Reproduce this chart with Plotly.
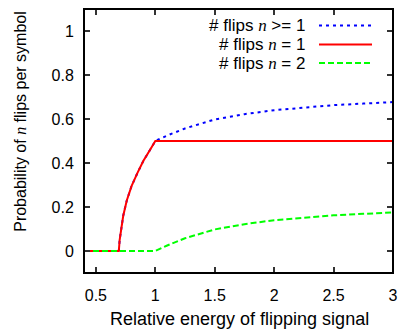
import plotly.graph_objects as go

# Data
energy = [0.4, 0.693, 0.70, 0.71, 0.73, 0.76, 0.80, 0.85, 0.90, 0.95, 1.0,
          1.1, 1.25, 1.5, 1.75, 2.0, 2.25, 2.5, 2.75, 3.0]
p_ge1 = [0, 0, 0.05, 0.09, 0.16, 0.23, 0.295, 0.355, 0.41, 0.455, 0.5,
         0.525, 0.557, 0.598, 0.622, 0.64, 0.653, 0.663, 0.670, 0.677]
p_eq1 = [0, 0, 0.05, 0.09, 0.16, 0.23, 0.295, 0.355, 0.41, 0.455, 0.5,
         0.5, 0.5, 0.5, 0.5, 0.5, 0.5, 0.5, 0.5, 0.5]
p_eq2 = [0, 0, 0, 0, 0, 0, 0, 0, 0, 0, 0,
         0.025, 0.058, 0.098, 0.122, 0.14, 0.152, 0.162, 0.169, 0.175]

x_ticks = [0.5, 1, 1.5, 2, 2.5, 3]
x_tick_labels = ["0.5", "1", "1.5", "2", "2.5", "3"]
y_ticks = [0, 0.2, 0.4, 0.6, 0.8, 1]
y_tick_labels = ["0", "0.2", "0.4", "0.6", "0.8", "1"]

N = '<span style="font-family:\'Liberation Serif\'"><i>n</i></span>'
series_names = ["# flips " + N + " >= 1", "# flips " + N + " = 1", "# flips " + N + " = 2"]
series_colors = ["#0000ff", "#ff0000", "#00ff00"]
series_dash = ["3px,4px", "solid", "6px,3px"]
series_values = [p_ge1, p_eq1, p_eq2]

FONT = "Liberation Sans, Arial, sans-serif"

fig = go.Figure()
for name, vals, col, dash in zip(series_names, series_values, series_colors, series_dash):
    fig.add_trace(go.Scatter(x=energy, y=vals, mode="lines", name=name,
                             line=dict(color=col, width=2, dash=dash),
                             showlegend=False, hoverinfo="skip"))

W, H = 401, 329
L, T = 84, 8.5
pw, ph = 309, 264.5
R, B = W - L - pw, H - T - ph

def px(x):
    return (x - L) / pw
def py(y):
    return (T + ph - y) / ph

rows_y = [25, 44, 62.7]
for name, col, dash, ry in zip(series_names, series_colors, series_dash, rows_y):
    fig.add_annotation(x=px(307), y=py(ry), xref="paper", yref="paper",
                       text=name, showarrow=False, xanchor="right", yanchor="middle",
                       font=dict(family=FONT, size=17, color="black"))
    fig.add_shape(type="line", xref="paper", yref="paper",
                  x0=px(319), x1=px(372), y0=py(ry), y1=py(ry),
                  line=dict(color=col, width=2, dash=dash))

# plot border box
fig.add_shape(type="rect", xref="paper", yref="paper", x0=0, x1=1, y0=0, y1=1,
              line=dict(color="black", width=2), layer="above")

# axis titles
fig.add_annotation(x=px(21), y=py(121.5), xref="paper", yref="paper",
                   text="Probability of " + N + " flips per symbol", textangle=-90,
                   showarrow=False, xanchor="center", yanchor="middle",
                   font=dict(family=FONT, size=16, color="black"))
fig.add_annotation(x=px(239), y=py(319), xref="paper", yref="paper",
                   text="Relative energy of flipping signal",
                   showarrow=False, xanchor="center", yanchor="middle",
                   font=dict(family=FONT, size=18, color="black"))

axis_common = dict(showline=True, linecolor="black", linewidth=1, mirror="allticks",
                   ticks="inside", ticklen=6, tickcolor="#333333", tickwidth=1.5,
                   showgrid=False, zeroline=False, automargin=False,
                   tickfont=dict(family=FONT, size=16, color="black"))

fig.update_layout(
    width=W, height=H,
    margin=dict(l=L, r=R, t=T, b=B, pad=0),
    paper_bgcolor="white", plot_bgcolor="white",
    hovermode=False,
    xaxis=dict(range=[0.4, 3], tickvals=x_ticks, ticktext=x_tick_labels,
               ticklabelstandoff=8, **axis_common),
    yaxis=dict(range=[-0.1, 1.1], tickvals=y_ticks, ticktext=y_tick_labels,
               ticklabelstandoff=6, **axis_common),
)

fig.write_html("out.html", config={"displayModeBar": False},
               post_script="document.body.style.margin='0';")
